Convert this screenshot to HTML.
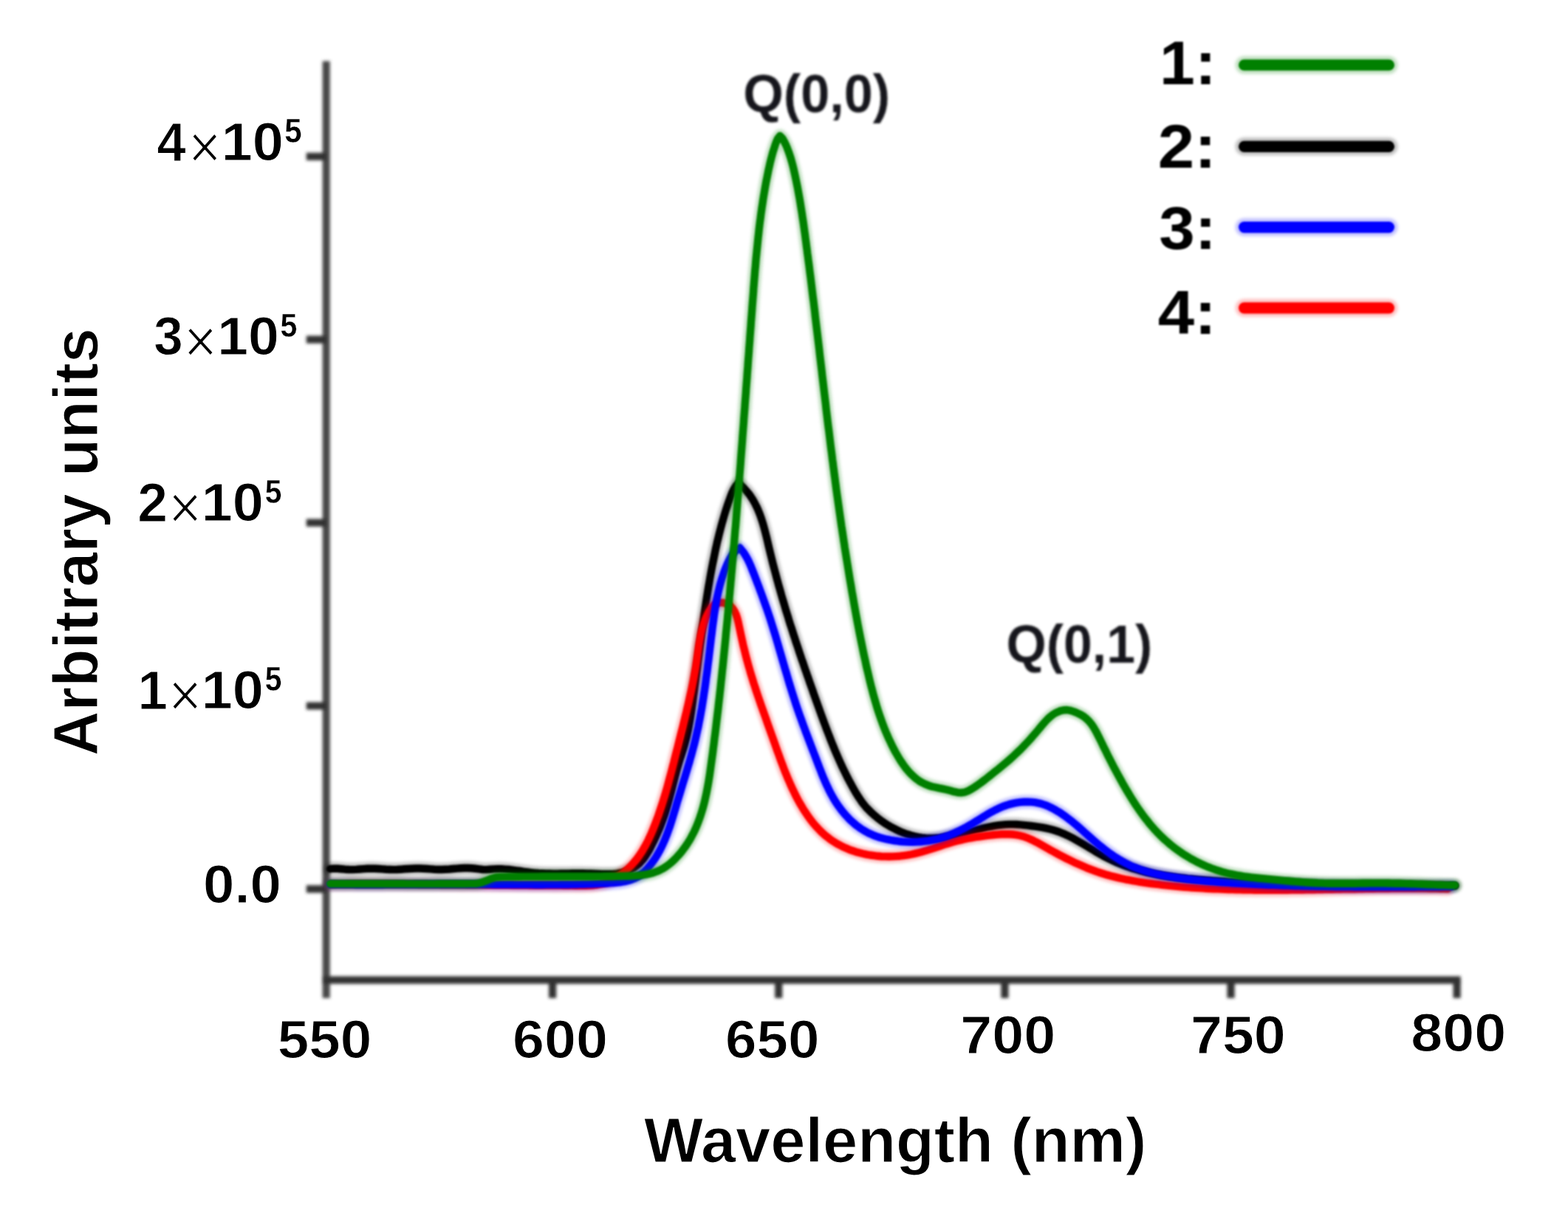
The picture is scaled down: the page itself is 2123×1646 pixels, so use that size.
<!DOCTYPE html>
<html lang="en">
<head>
<meta charset="utf-8">
<title>Emission spectra</title>
<style>
html,body{margin:0;padding:0;background:#fff;}
body{width:2123px;height:1646px;overflow:hidden;font-family:"Liberation Sans", sans-serif;}
svg{display:block;}
text{font-family:"Liberation Sans", sans-serif;}
</style>
</head>
<body>
<svg xmlns="http://www.w3.org/2000/svg" width="2123" height="1646" viewBox="0 0 2123 1646">
<defs>
<filter id="bcv" filterUnits="userSpaceOnUse" x="-3000" y="-3000" width="6000" height="6000"><feGaussianBlur stdDeviation="1.20"/></filter>
<filter id="bhalo" filterUnits="userSpaceOnUse" x="-3000" y="-3000" width="6000" height="6000"><feGaussianBlur stdDeviation="2.00"/></filter>
<filter id="ba" filterUnits="userSpaceOnUse" x="-3000" y="-3000" width="6000" height="6000"><feGaussianBlur stdDeviation="2.00"/></filter>
<filter id="bl" filterUnits="userSpaceOnUse" x="-3000" y="-3000" width="6000" height="6000"><feGaussianBlur stdDeviation="1.30"/></filter>
<filter id="bt" filterUnits="userSpaceOnUse" x="-3000" y="-3000" width="6000" height="6000"><feGaussianBlur stdDeviation="1.50"/></filter>
<filter id="bt2" filterUnits="userSpaceOnUse" x="-3000" y="-3000" width="6000" height="6000"><feGaussianBlur stdDeviation="0.90"/></filter>
</defs>
<rect width="2123" height="1646" fill="#ffffff"/>
<g id="axes" fill="none" stroke="#303030" stroke-width="10.2" filter="url(#ba)">
<path stroke="#474747" d="M441.7 82.8V1351.0"/>
<path d="M436.6 1326.6H1977.7"/>
<path d="M414.8 211.8H441.7M414.8 459.7H441.7M414.8 707.6H441.7M414.8 955.5H441.7M414.8 1203.4H441.7"/>
<path d="M748.1 1326.6V1351.0M1054.2 1326.6V1351.0M1360.4 1326.6V1351.0M1666.5 1326.6V1351.0M1972.6 1326.6V1351.0"/>
</g>
<g id="curves" fill="none" stroke-linejoin="round" stroke-linecap="round">
<defs><path id="c2" d="M447.0 1176.2L452.0 1175.6L457.0 1175.7L462.1 1176.2L467.1 1176.7L472.2 1177.0L477.2 1177.1L482.3 1176.9L487.3 1176.5L492.3 1176.1L497.4 1175.7L502.4 1175.6L507.5 1175.7L512.5 1176.0L517.6 1176.4L522.6 1176.8L527.7 1177.0L532.7 1177.1L537.7 1177.0L542.8 1176.7L547.8 1176.3L552.9 1176.0L557.9 1175.7L563.0 1175.5L568.0 1175.5L573.1 1175.7L578.1 1176.0L583.2 1176.4L588.2 1176.8L593.2 1177.0L598.3 1177.0L603.3 1176.8L608.4 1176.5L613.4 1176.0L618.5 1175.6L623.5 1175.2L628.6 1175.0L633.6 1175.0L638.6 1175.3L643.7 1175.8L648.7 1176.4L653.7 1177.0L658.7 1177.1L663.8 1176.7L668.8 1176.4L673.8 1176.2L678.9 1176.3L683.9 1176.6L689.0 1177.0L694.0 1177.6L699.0 1178.3L704.1 1179.0L709.1 1179.8L714.1 1180.5L719.2 1181.1L724.2 1181.6L729.2 1182.0L734.2 1182.2L739.2 1182.4L744.3 1182.5L749.3 1182.6L754.3 1182.6L759.3 1182.5L764.4 1182.5L769.4 1182.4L774.5 1182.3L779.5 1182.3L784.6 1182.3L789.7 1182.3L794.8 1182.4L799.9 1182.5L805.0 1182.7L810.1 1183.0L815.3 1183.2L820.4 1183.3L825.4 1183.3L830.4 1183.1L835.4 1182.6L840.3 1181.7L845.2 1180.5L849.9 1178.9L854.5 1176.8L858.9 1174.2L862.9 1171.2L866.6 1167.8L870.0 1164.1L873.0 1160.1L875.8 1155.9L878.5 1151.5L880.9 1147.0L883.2 1142.4L885.5 1137.8L887.7 1133.2L889.8 1128.6L891.8 1124.0L893.8 1119.4L895.6 1114.7L897.4 1110.0L899.1 1105.3L900.7 1100.5L902.2 1095.7L903.6 1090.8L905.0 1086.0L906.3 1081.1L907.6 1076.2L908.9 1071.3L910.2 1066.4L911.4 1061.5L912.7 1056.6L913.9 1051.7L915.2 1046.8L916.5 1041.9L917.9 1037.1L919.3 1032.2L920.8 1027.4L922.4 1022.7L923.9 1017.9L925.5 1013.1L926.9 1008.3L928.2 1003.4L929.5 998.6L930.6 993.7L931.7 988.7L932.6 983.8L933.5 978.8L934.4 973.8L935.2 968.8L936.0 963.8L936.7 958.8L937.4 953.8L938.1 948.8L938.7 943.7L939.4 938.7L940.1 933.7L940.7 928.7L941.4 923.6L942.0 918.6L942.7 913.6L943.3 908.6L944.0 903.6L944.6 898.6L945.2 893.6L945.9 888.6L946.5 883.5L947.2 878.5L947.8 873.5L948.5 868.5L949.2 863.5L949.8 858.5L950.5 853.5L951.2 848.5L951.9 843.5L952.6 838.5L953.3 833.5L954.0 828.6L954.7 823.6L955.5 818.6L956.2 813.6L957.0 808.6L957.8 803.6L958.6 798.6L959.4 793.7L960.3 788.7L961.1 783.7L962.0 778.7L962.9 773.8L963.8 768.8L964.8 763.8L965.8 758.9L966.8 753.9L967.8 749.0L968.8 744.0L969.9 739.1L971.0 734.1L972.2 729.2L973.4 724.3L974.6 719.4L975.9 714.5L977.2 709.6L978.6 704.8L980.0 699.9L981.4 695.1L982.9 690.3L984.5 685.5L986.1 680.7L987.8 675.9L989.5 671.2L991.4 666.5L993.6 662.0L996.3 657.8L999.8 654.0L1003.8 657.4L1007.4 661.0L1010.8 664.7L1014.0 668.6L1016.8 672.6L1019.5 676.7L1021.9 681.0L1024.1 685.3L1026.2 689.8L1028.1 694.4L1029.8 699.0L1031.4 703.7L1032.9 708.5L1034.3 713.4L1035.6 718.2L1036.9 723.2L1038.1 728.1L1039.3 733.1L1040.4 738.0L1041.6 743.0L1042.8 747.9L1044.0 752.9L1045.2 757.8L1046.4 762.7L1047.7 767.6L1049.0 772.5L1050.3 777.4L1051.6 782.3L1052.9 787.1L1054.2 792.0L1055.6 796.8L1057.0 801.7L1058.3 806.5L1059.7 811.3L1061.2 816.1L1062.6 820.9L1064.0 825.7L1065.5 830.5L1067.0 835.3L1068.4 840.1L1069.9 844.9L1071.5 849.6L1073.0 854.4L1074.5 859.1L1076.1 863.9L1077.6 868.7L1079.2 873.4L1080.8 878.2L1082.3 882.9L1083.9 887.6L1085.5 892.4L1087.2 897.1L1088.8 901.9L1090.4 906.6L1092.1 911.3L1093.7 916.1L1095.4 920.8L1097.0 925.6L1098.7 930.3L1100.4 935.0L1102.0 939.8L1103.7 944.5L1105.4 949.3L1107.1 954.0L1108.8 958.8L1110.5 963.5L1112.2 968.3L1114.0 973.1L1115.7 977.8L1117.5 982.5L1119.3 987.3L1121.1 992.0L1122.9 996.7L1124.7 1001.4L1126.6 1006.1L1128.5 1010.8L1130.4 1015.5L1132.4 1020.1L1134.4 1024.7L1136.4 1029.3L1138.5 1033.9L1140.6 1038.5L1142.8 1043.0L1145.0 1047.5L1147.2 1052.0L1149.5 1056.4L1151.9 1060.8L1154.3 1065.2L1156.7 1069.5L1159.2 1073.8L1161.8 1078.0L1164.6 1082.1L1167.4 1086.2L1170.4 1090.0L1173.6 1093.8L1177.1 1097.3L1180.6 1100.7L1184.4 1104.1L1188.3 1107.3L1192.4 1110.4L1196.5 1113.3L1200.8 1116.1L1205.3 1118.8L1209.8 1121.2L1214.4 1123.5L1219.1 1125.7L1223.8 1127.6L1228.6 1129.3L1233.5 1130.8L1238.4 1132.1L1243.3 1133.1L1248.3 1133.9L1253.2 1134.5L1258.2 1134.7L1263.1 1134.8L1268.1 1134.5L1273.0 1134.1L1277.9 1133.5L1282.8 1132.7L1287.7 1131.7L1292.6 1130.7L1297.5 1129.5L1302.4 1128.3L1307.2 1127.1L1312.1 1125.8L1317.0 1124.5L1321.9 1123.3L1326.8 1122.1L1331.7 1120.9L1336.6 1119.8L1341.5 1118.8L1346.4 1117.9L1351.4 1117.2L1356.3 1116.6L1361.3 1116.1L1366.3 1115.9L1371.3 1115.9L1376.3 1116.0L1381.3 1116.4L1386.3 1116.9L1391.4 1117.4L1396.4 1118.0L1401.5 1118.6L1406.5 1119.3L1411.5 1120.1L1416.5 1121.1L1421.4 1122.2L1426.2 1123.5L1430.9 1125.0L1435.6 1126.7L1440.2 1128.6L1444.8 1130.7L1449.3 1132.9L1453.8 1135.2L1458.2 1137.7L1462.6 1140.2L1467.0 1142.8L1471.3 1145.4L1475.7 1148.0L1480.1 1150.6L1484.4 1153.2L1488.8 1155.8L1493.2 1158.3L1497.7 1160.6L1502.2 1162.9L1506.7 1165.0L1511.2 1167.1L1515.8 1169.0L1520.4 1170.8L1525.1 1172.5L1529.8 1174.2L1534.5 1175.7L1539.3 1177.1L1544.0 1178.5L1548.8 1179.7L1553.7 1180.9L1558.5 1182.0L1563.4 1183.0L1568.3 1184.0L1573.2 1184.9L1578.2 1185.7L1583.1 1186.5L1588.1 1187.2L1593.1 1187.8L1598.1 1188.5L1603.1 1189.0L1608.1 1189.6L1613.1 1190.0L1618.1 1190.5L1623.2 1190.9L1628.2 1191.3L1633.3 1191.7L1638.3 1192.0L1643.4 1192.4L1648.4 1192.7L1653.5 1193.0L1658.5 1193.3L1663.6 1193.6L1668.6 1193.8L1673.6 1194.1L1678.7 1194.4L1683.7 1194.6L1688.7 1194.9L1693.8 1195.1L1698.8 1195.3L1703.8 1195.6L1708.9 1195.8L1713.9 1196.0L1718.9 1196.2L1723.9 1196.4L1729.0 1196.6L1734.0 1196.7L1739.0 1196.9L1744.0 1197.1L1749.0 1197.2L1754.0 1197.4L1759.1 1197.5L1764.1 1197.7L1769.1 1197.8L1774.1 1197.9L1779.1 1198.0L1784.1 1198.1L1789.1 1198.3L1794.2 1198.4L1799.2 1198.4L1804.2 1198.5L1809.2 1198.6L1814.2 1198.7L1819.2 1198.8L1824.2 1198.8L1829.2 1198.9L1834.2 1198.9L1839.3 1199.0L1844.3 1199.0L1849.3 1199.1L1854.3 1199.1L1859.3 1199.2L1864.3 1199.2L1869.4 1199.2L1874.4 1199.2L1879.4 1199.3L1884.4 1199.3L1889.4 1199.3L1894.5 1199.3L1899.5 1199.3L1904.5 1199.3L1909.5 1199.3L1914.6 1199.3L1919.6 1199.3L1924.6 1199.2L1929.7 1199.2L1934.7 1199.2L1939.7 1199.2L1944.8 1199.2L1949.8 1199.1L1954.9 1199.1L1959.9 1199.1L1964.9 1199.0L1970.0 1199.0"/></defs>
<use href="#c2" stroke="#000000" stroke-width="18.0" stroke-opacity="0.25" filter="url(#bhalo)"/>
<use href="#c2" stroke="#000000" stroke-width="10.4" filter="url(#bcv)"/>
<defs><path id="c4" d="M447.0 1197.0L452.0 1197.0L457.0 1196.9L462.1 1196.9L467.1 1196.9L472.1 1196.8L477.1 1196.8L482.2 1196.8L487.2 1196.8L492.2 1196.8L497.2 1196.8L502.3 1196.8L507.3 1196.8L512.3 1196.8L517.3 1196.8L522.4 1196.8L527.4 1196.8L532.4 1196.8L537.4 1196.8L542.5 1196.9L547.5 1196.9L552.5 1196.9L557.5 1196.9L562.6 1196.9L567.6 1197.0L572.6 1197.0L577.6 1197.0L582.7 1197.1L587.7 1197.1L592.7 1197.1L597.7 1197.2L602.8 1197.2L607.8 1197.3L612.8 1197.3L617.9 1197.3L622.9 1197.4L627.9 1197.4L632.9 1197.5L638.0 1197.5L643.0 1197.6L648.0 1197.6L653.0 1197.6L658.0 1197.7L663.1 1197.7L668.1 1197.8L673.1 1197.8L678.1 1197.9L683.2 1197.9L688.2 1197.9L693.2 1198.0L698.2 1198.0L703.2 1198.1L708.3 1198.1L713.3 1198.1L718.3 1198.2L723.3 1198.2L728.3 1198.2L733.3 1198.3L738.4 1198.3L743.4 1198.3L748.4 1198.4L753.4 1198.4L758.5 1198.4L763.5 1198.5L768.5 1198.5L773.6 1198.6L778.6 1198.7L783.7 1198.8L788.8 1198.8L793.8 1198.7L798.8 1198.6L803.8 1198.2L808.8 1197.5L813.7 1196.5L818.5 1195.2L823.3 1193.5L827.9 1191.4L832.4 1189.1L836.8 1186.4L841.0 1183.6L845.0 1180.5L848.9 1177.2L852.5 1173.8L855.9 1170.2L859.2 1166.4L862.3 1162.6L865.2 1158.6L868.0 1154.4L870.6 1150.2L873.1 1145.9L875.5 1141.5L877.8 1137.0L879.9 1132.4L882.0 1127.8L883.9 1123.2L885.8 1118.5L887.7 1113.8L889.4 1109.0L891.2 1104.3L892.8 1099.5L894.4 1094.8L896.0 1090.0L897.5 1085.2L899.0 1080.4L900.5 1075.6L901.9 1070.7L903.3 1065.9L904.6 1061.1L905.9 1056.2L907.2 1051.4L908.5 1046.5L909.8 1041.7L911.0 1036.8L912.3 1032.0L913.5 1027.1L914.7 1022.2L915.9 1017.4L917.2 1012.5L918.4 1007.7L919.6 1002.8L920.8 997.9L922.0 993.1L923.3 988.2L924.5 983.4L925.7 978.5L926.9 973.7L928.1 968.8L929.3 964.0L930.4 959.1L931.6 954.2L932.7 949.3L933.8 944.4L934.9 939.5L936.0 934.6L937.0 929.7L938.0 924.8L939.0 919.8L939.9 914.9L940.8 909.9L941.7 904.9L942.5 899.9L943.3 894.9L944.0 889.8L944.7 884.8L945.4 879.7L946.1 874.7L946.9 869.6L947.8 864.6L948.7 859.7L949.8 854.7L951.1 849.9L952.5 845.1L954.2 840.4L956.0 835.7L958.2 831.2L960.6 826.8L963.4 822.6L966.7 819.1L970.5 816.6L975.0 815.6L979.8 816.0L984.6 817.6L988.7 820.2L992.0 823.6L994.6 827.6L996.7 832.2L998.3 837.1L999.6 842.2L1000.7 847.5L1001.8 852.7L1002.9 857.9L1004.0 862.9L1005.1 867.9L1006.2 872.9L1007.4 877.8L1008.6 882.6L1009.8 887.4L1011.0 892.1L1012.3 896.9L1013.6 901.6L1015.0 906.4L1016.3 911.1L1017.8 915.9L1019.2 920.6L1020.7 925.4L1022.3 930.1L1023.8 934.9L1025.4 939.7L1027.0 944.4L1028.7 949.2L1030.3 954.0L1032.0 958.8L1033.7 963.6L1035.4 968.3L1037.1 973.1L1038.8 977.9L1040.5 982.7L1042.2 987.4L1043.9 992.2L1045.6 996.9L1047.3 1001.7L1049.0 1006.4L1050.6 1011.1L1052.3 1015.9L1054.0 1020.6L1055.7 1025.3L1057.4 1030.0L1059.2 1034.7L1060.9 1039.3L1062.7 1044.0L1064.6 1048.6L1066.5 1053.2L1068.5 1057.8L1070.5 1062.4L1072.6 1067.0L1074.8 1071.6L1077.0 1076.1L1079.3 1080.6L1081.7 1085.1L1084.3 1089.5L1086.9 1093.9L1089.6 1098.2L1092.4 1102.4L1095.3 1106.6L1098.3 1110.6L1101.4 1114.6L1104.7 1118.4L1108.1 1122.0L1111.6 1125.6L1115.2 1129.0L1119.0 1132.2L1122.9 1135.2L1126.9 1138.1L1131.1 1140.7L1135.4 1143.2L1139.8 1145.5L1144.3 1147.6L1148.9 1149.6L1153.6 1151.3L1158.4 1152.9L1163.3 1154.3L1168.2 1155.5L1173.2 1156.6L1178.2 1157.5L1183.2 1158.2L1188.3 1158.8L1193.4 1159.2L1198.5 1159.4L1203.6 1159.5L1208.7 1159.4L1213.8 1159.1L1218.9 1158.7L1223.9 1158.1L1228.9 1157.4L1233.9 1156.5L1238.8 1155.4L1243.6 1154.2L1248.4 1152.9L1253.2 1151.6L1257.9 1150.1L1262.7 1148.6L1267.4 1147.0L1272.1 1145.5L1276.8 1143.9L1281.5 1142.4L1286.3 1141.0L1291.1 1139.6L1295.9 1138.3L1300.8 1137.1L1305.7 1136.0L1310.6 1135.0L1315.6 1134.1L1320.6 1133.2L1325.6 1132.5L1330.6 1131.8L1335.7 1131.1L1340.8 1130.6L1345.8 1130.0L1350.9 1129.6L1356.0 1129.3L1361.0 1129.2L1366.0 1129.2L1371.0 1129.5L1375.9 1130.1L1380.7 1131.0L1385.4 1132.2L1390.1 1133.8L1394.6 1135.7L1399.1 1137.8L1403.6 1140.1L1408.0 1142.6L1412.4 1145.1L1416.8 1147.6L1421.2 1150.1L1425.7 1152.5L1430.1 1154.9L1434.6 1157.3L1439.1 1159.7L1443.6 1162.0L1448.1 1164.2L1452.6 1166.4L1457.2 1168.6L1461.8 1170.6L1466.4 1172.6L1471.0 1174.6L1475.6 1176.4L1480.3 1178.2L1485.0 1179.9L1489.8 1181.5L1494.6 1183.0L1499.3 1184.4L1504.2 1185.7L1509.0 1186.9L1513.9 1188.1L1518.8 1189.2L1523.7 1190.3L1528.6 1191.2L1533.5 1192.1L1538.5 1193.0L1543.4 1193.8L1548.4 1194.6L1553.4 1195.3L1558.4 1196.0L1563.4 1196.6L1568.4 1197.2L1573.4 1197.8L1578.4 1198.3L1583.4 1198.9L1588.4 1199.4L1593.4 1199.8L1598.4 1200.3L1603.4 1200.7L1608.4 1201.1L1613.4 1201.5L1618.4 1201.8L1623.4 1202.1L1628.4 1202.4L1633.4 1202.7L1638.4 1203.0L1643.5 1203.2L1648.5 1203.4L1653.5 1203.6L1658.5 1203.8L1663.5 1204.0L1668.5 1204.1L1673.6 1204.3L1678.6 1204.4L1683.6 1204.5L1688.6 1204.6L1693.6 1204.6L1698.7 1204.7L1703.7 1204.7L1708.7 1204.8L1713.7 1204.8L1718.8 1204.8L1723.8 1204.8L1728.8 1204.8L1733.8 1204.8L1738.9 1204.7L1743.9 1204.7L1748.9 1204.6L1753.9 1204.6L1759.0 1204.5L1764.0 1204.5L1769.0 1204.4L1774.1 1204.3L1779.1 1204.2L1784.1 1204.1L1789.1 1204.0L1794.2 1203.9L1799.2 1203.8L1804.2 1203.7L1809.3 1203.6L1814.3 1203.5L1819.3 1203.4L1824.3 1203.3L1829.4 1203.3L1834.4 1203.2L1839.4 1203.1L1844.5 1203.0L1849.5 1202.9L1854.5 1202.8L1859.5 1202.7L1864.6 1202.6L1869.6 1202.6L1874.6 1202.5L1879.6 1202.5L1884.7 1202.4L1889.7 1202.4L1894.7 1202.3L1899.8 1202.3L1904.8 1202.3L1909.8 1202.3L1914.8 1202.3L1919.8 1202.3L1924.9 1202.4L1929.9 1202.4L1934.9 1202.5L1939.9 1202.6L1944.9 1202.6L1950.0 1202.7L1955.0 1202.9L1960.0 1203.0"/></defs>
<use href="#c4" stroke="#ff0000" stroke-width="18.0" stroke-opacity="0.25" filter="url(#bhalo)"/>
<use href="#c4" stroke="#ff0000" stroke-width="10.4" filter="url(#bcv)"/>
<defs><path id="c3" d="M447.0 1197.0L452.0 1197.0L457.1 1197.1L462.1 1197.1L467.1 1197.1L472.2 1197.1L477.2 1197.1L482.3 1197.2L487.3 1197.2L492.3 1197.2L497.4 1197.2L502.4 1197.2L507.5 1197.2L512.5 1197.2L517.6 1197.2L522.7 1197.1L527.7 1197.1L532.8 1197.1L537.8 1197.1L542.9 1197.1L547.9 1197.1L553.0 1197.1L558.1 1197.1L563.1 1197.0L568.2 1197.0L573.2 1197.0L578.3 1197.0L583.3 1197.0L588.4 1197.0L593.5 1197.0L598.5 1197.0L603.6 1197.0L608.6 1197.0L613.7 1197.0L618.7 1197.0L623.8 1197.0L628.8 1197.0L633.9 1197.0L638.9 1197.0L643.9 1197.0L649.0 1197.0L654.0 1197.1L659.1 1197.1L664.1 1197.1L669.1 1197.2L674.2 1197.2L679.2 1197.2L684.2 1197.3L689.2 1197.3L694.3 1197.3L699.3 1197.4L704.3 1197.4L709.4 1197.4L714.4 1197.4L719.4 1197.4L724.5 1197.5L729.5 1197.5L734.5 1197.5L739.6 1197.4L744.6 1197.4L749.7 1197.4L754.7 1197.4L759.8 1197.3L764.8 1197.2L769.9 1197.2L775.0 1197.1L780.1 1197.0L785.1 1196.9L790.2 1196.8L795.3 1196.6L800.4 1196.5L805.5 1196.3L810.6 1196.1L815.7 1195.9L820.9 1195.7L826.0 1195.4L831.1 1195.1L836.2 1194.6L841.2 1194.0L846.1 1193.1L850.8 1192.0L855.4 1190.5L859.9 1188.6L864.2 1186.3L868.2 1183.6L872.0 1180.4L875.6 1176.8L878.9 1173.0L882.1 1168.9L885.1 1164.8L887.9 1160.6L890.5 1156.3L892.9 1151.9L895.3 1147.4L897.4 1142.8L899.5 1138.2L901.4 1133.5L903.3 1128.8L905.0 1124.1L906.7 1119.3L908.3 1114.4L909.8 1109.6L911.3 1104.7L912.8 1099.8L914.3 1094.9L915.7 1090.0L917.1 1085.1L918.6 1080.2L920.1 1075.4L921.6 1070.5L923.0 1065.7L924.5 1060.8L926.0 1056.0L927.5 1051.2L929.0 1046.3L930.4 1041.5L931.8 1036.7L933.3 1031.9L934.6 1027.0L936.0 1022.2L937.3 1017.4L938.6 1012.5L939.9 1007.7L941.1 1002.8L942.2 998.0L943.3 993.1L944.4 988.2L945.5 983.3L946.4 978.4L947.4 973.4L948.3 968.5L949.2 963.5L950.1 958.6L950.9 953.6L951.7 948.7L952.5 943.7L953.2 938.7L954.0 933.7L954.7 928.7L955.4 923.7L956.0 918.7L956.7 913.7L957.4 908.7L958.0 903.6L958.6 898.6L959.3 893.6L959.9 888.5L960.5 883.5L961.1 878.4L961.7 873.4L962.3 868.3L962.9 863.3L963.6 858.2L964.2 853.2L964.8 848.1L965.5 843.0L966.2 838.0L966.9 832.9L967.6 827.9L968.4 822.9L969.2 817.9L970.1 812.9L971.1 807.9L972.2 803.0L973.3 798.1L974.5 793.2L975.8 788.4L977.2 783.6L978.8 778.8L980.4 774.1L982.2 769.5L984.1 764.9L986.2 760.3L988.5 755.9L991.0 751.7L994.0 747.9L997.5 744.4L1001.5 741.5L1004.8 745.3L1007.7 749.2L1010.3 753.4L1012.7 757.8L1014.8 762.3L1016.8 766.9L1018.6 771.5L1020.5 776.2L1022.3 780.9L1024.1 785.6L1025.9 790.3L1027.7 795.0L1029.4 799.7L1031.2 804.5L1032.9 809.2L1034.6 813.9L1036.3 818.7L1038.0 823.4L1039.6 828.2L1041.2 832.9L1042.8 837.7L1044.3 842.5L1045.8 847.3L1047.3 852.1L1048.8 856.9L1050.3 861.8L1051.7 866.6L1053.1 871.4L1054.5 876.2L1055.9 881.1L1057.3 885.9L1058.7 890.7L1060.1 895.6L1061.5 900.4L1062.9 905.3L1064.4 910.1L1065.8 914.9L1067.2 919.7L1068.6 924.6L1070.1 929.4L1071.6 934.2L1073.1 939.0L1074.6 943.8L1076.2 948.6L1077.7 953.3L1079.3 958.1L1081.0 962.9L1082.6 967.6L1084.3 972.3L1086.0 977.1L1087.7 981.8L1089.5 986.5L1091.2 991.2L1093.0 995.9L1094.8 1000.7L1096.6 1005.4L1098.4 1010.1L1100.2 1014.8L1102.0 1019.5L1103.8 1024.2L1105.6 1028.9L1107.4 1033.6L1109.2 1038.4L1111.1 1043.1L1112.9 1047.8L1114.8 1052.5L1116.8 1057.1L1118.8 1061.7L1121.0 1066.3L1123.2 1070.9L1125.5 1075.3L1128.0 1079.8L1130.6 1084.1L1133.4 1088.4L1136.3 1092.5L1139.3 1096.6L1142.5 1100.5L1145.8 1104.3L1149.2 1107.9L1152.8 1111.4L1156.6 1114.7L1160.4 1117.9L1164.4 1120.8L1168.6 1123.5L1172.9 1126.0L1177.3 1128.3L1181.9 1130.3L1186.6 1132.1L1191.4 1133.7L1196.3 1135.0L1201.3 1136.2L1206.3 1137.2L1211.3 1138.0L1216.4 1138.7L1221.5 1139.2L1226.6 1139.5L1231.7 1139.7L1236.8 1139.7L1241.8 1139.6L1246.9 1139.2L1251.9 1138.7L1256.9 1138.1L1261.9 1137.2L1266.8 1136.2L1271.7 1135.0L1276.5 1133.6L1281.2 1132.0L1285.9 1130.3L1290.5 1128.4L1295.1 1126.3L1299.6 1124.2L1304.1 1121.9L1308.5 1119.5L1312.8 1117.0L1317.2 1114.4L1321.5 1111.8L1325.8 1109.2L1330.0 1106.5L1334.3 1103.9L1338.6 1101.3L1343.0 1098.8L1347.4 1096.5L1351.9 1094.3L1356.6 1092.2L1361.3 1090.5L1366.2 1088.9L1371.2 1087.6L1376.2 1086.6L1381.2 1085.9L1386.3 1085.5L1391.3 1085.4L1396.3 1085.6L1401.3 1086.2L1406.1 1087.1L1410.9 1088.3L1415.6 1089.9L1420.2 1091.8L1424.7 1094.0L1429.1 1096.4L1433.4 1098.9L1437.6 1101.7L1441.7 1104.6L1445.8 1107.6L1449.7 1110.6L1453.6 1113.8L1457.5 1117.0L1461.3 1120.3L1465.1 1123.6L1468.8 1127.0L1472.6 1130.4L1476.4 1133.7L1480.2 1137.1L1484.0 1140.4L1487.9 1143.7L1491.9 1146.9L1495.9 1150.0L1499.9 1153.1L1504.0 1156.1L1508.2 1159.0L1512.4 1161.7L1516.7 1164.4L1521.1 1166.8L1525.5 1169.2L1530.0 1171.4L1534.5 1173.4L1539.1 1175.2L1543.8 1176.9L1548.6 1178.5L1553.3 1180.0L1558.2 1181.3L1563.0 1182.5L1567.9 1183.6L1572.8 1184.6L1577.8 1185.6L1582.8 1186.4L1587.7 1187.2L1592.7 1188.0L1597.7 1188.7L1602.8 1189.3L1607.8 1190.0L1612.8 1190.5L1617.8 1191.1L1622.8 1191.6L1627.8 1192.1L1632.8 1192.6L1637.9 1193.0L1642.9 1193.4L1647.9 1193.8L1652.9 1194.2L1658.0 1194.5L1663.0 1194.9L1668.0 1195.2L1673.0 1195.5L1678.1 1195.8L1683.1 1196.0L1688.1 1196.3L1693.2 1196.6L1698.2 1196.8L1703.2 1197.1L1708.2 1197.3L1713.3 1197.5L1718.3 1197.7L1723.3 1197.9L1728.4 1198.1L1733.4 1198.3L1738.4 1198.5L1743.5 1198.6L1748.5 1198.8L1753.5 1199.0L1758.5 1199.1L1763.6 1199.2L1768.6 1199.4L1773.6 1199.5L1778.7 1199.6L1783.7 1199.7L1788.7 1199.8L1793.8 1199.9L1798.8 1200.0L1803.8 1200.1L1808.9 1200.2L1813.9 1200.2L1819.0 1200.3L1824.0 1200.4L1829.0 1200.4L1834.1 1200.5L1839.1 1200.5L1844.1 1200.5L1849.2 1200.6L1854.2 1200.6L1859.2 1200.6L1864.3 1200.6L1869.3 1200.6L1874.3 1200.6L1879.4 1200.6L1884.4 1200.6L1889.5 1200.6L1894.5 1200.6L1899.5 1200.6L1904.6 1200.5L1909.6 1200.5L1914.6 1200.5L1919.7 1200.4L1924.7 1200.4L1929.7 1200.4L1934.8 1200.3L1939.8 1200.3L1944.9 1200.2L1949.9 1200.2L1954.9 1200.1L1960.0 1200.1L1965.0 1200.0"/></defs>
<use href="#c3" stroke="#0000ff" stroke-width="18.0" stroke-opacity="0.25" filter="url(#bhalo)"/>
<use href="#c3" stroke="#0000ff" stroke-width="10.4" filter="url(#bcv)"/>
<defs><path id="c1" d="M447.0 1196.3L452.2 1196.3L457.4 1196.3L462.6 1196.3L467.8 1196.3L473.1 1196.2L478.3 1196.2L483.5 1196.2L488.7 1196.3L493.9 1196.3L499.1 1196.3L504.3 1196.3L509.5 1196.3L514.7 1196.3L519.9 1196.3L525.2 1196.3L530.4 1196.3L535.6 1196.3L540.8 1196.3L546.0 1196.3L551.2 1196.4L556.4 1196.4L561.6 1196.4L566.8 1196.4L572.1 1196.4L577.3 1196.4L582.5 1196.4L587.7 1196.4L592.9 1196.3L598.1 1196.3L603.3 1196.3L608.5 1196.3L613.7 1196.3L618.9 1196.2L624.2 1196.2L629.4 1196.2L634.6 1196.1L639.8 1196.1L645.0 1196.0L651.7 1194.6L658.2 1192.2L664.5 1189.5L671.1 1187.5L678.0 1187.0L683.1 1186.9L688.2 1186.8L693.3 1186.8L698.4 1186.7L703.4 1186.7L708.5 1186.6L713.5 1186.6L718.5 1186.6L723.6 1186.6L728.6 1186.6L733.6 1186.5L738.6 1186.5L743.6 1186.5L748.6 1186.5L753.6 1186.5L758.6 1186.5L763.6 1186.5L768.6 1186.5L773.6 1186.5L778.6 1186.5L783.6 1186.5L788.6 1186.5L793.6 1186.5L798.7 1186.5L803.7 1186.5L808.7 1186.4L813.8 1186.4L818.8 1186.3L823.9 1186.3L829.0 1186.2L834.1 1186.1L839.2 1186.0L844.3 1185.9L849.5 1185.8L854.6 1185.6L859.7 1185.4L864.8 1185.0L869.8 1184.4L874.8 1183.7L879.7 1182.6L884.5 1181.4L889.2 1179.7L893.7 1177.7L898.1 1175.4L902.3 1172.6L906.4 1169.6L910.3 1166.3L914.0 1162.7L917.5 1159.0L920.9 1155.2L924.1 1151.2L927.1 1147.2L930.0 1143.0L932.7 1138.8L935.2 1134.6L937.5 1130.2L939.8 1125.8L941.9 1121.3L943.8 1116.7L945.6 1112.1L947.3 1107.5L948.9 1102.8L950.4 1098.0L951.8 1093.2L953.1 1088.4L954.3 1083.5L955.4 1078.6L956.5 1073.6L957.5 1068.6L958.4 1063.6L959.3 1058.6L960.1 1053.6L960.9 1048.6L961.6 1043.5L962.3 1038.4L963.0 1033.4L963.7 1028.3L964.4 1023.3L965.1 1018.2L965.7 1013.2L966.4 1008.1L967.0 1003.1L967.6 998.0L968.3 993.0L968.9 988.0L969.5 983.0L970.1 977.9L970.7 972.9L971.3 967.9L971.9 962.9L972.5 957.9L973.0 952.9L973.6 947.9L974.2 942.9L974.7 937.9L975.3 932.9L975.8 927.9L976.3 922.9L976.9 917.9L977.4 912.9L977.9 907.9L978.5 902.9L979.0 897.9L979.5 892.9L980.0 887.9L980.5 882.9L981.0 877.9L981.5 872.9L982.0 867.9L982.5 862.9L982.9 857.9L983.4 852.9L983.9 847.9L984.4 842.9L984.9 837.9L985.3 832.9L985.8 827.9L986.3 822.9L986.7 817.9L987.2 812.9L987.6 807.9L988.1 802.9L988.5 797.9L989.0 792.9L989.4 787.9L989.9 782.9L990.3 777.8L990.8 772.8L991.2 767.8L991.6 762.8L992.1 757.8L992.5 752.8L992.9 747.7L993.3 742.7L993.8 737.7L994.2 732.7L994.6 727.7L995.0 722.6L995.4 717.6L995.9 712.6L996.3 707.6L996.7 702.5L997.1 697.5L997.5 692.5L997.9 687.5L998.3 682.4L998.7 677.4L999.1 672.4L999.5 667.3L999.9 662.3L1000.3 657.3L1000.7 652.3L1001.1 647.2L1001.5 642.2L1001.9 637.2L1002.3 632.1L1002.7 627.1L1003.0 622.1L1003.4 617.0L1003.8 612.0L1004.2 607.0L1004.6 601.9L1005.0 596.9L1005.3 591.9L1005.7 586.8L1006.1 581.8L1006.5 576.8L1006.9 571.7L1007.2 566.7L1007.6 561.7L1008.0 556.7L1008.4 551.6L1008.7 546.6L1009.1 541.6L1009.5 536.5L1009.9 531.5L1010.2 526.5L1010.6 521.4L1011.0 516.4L1011.4 511.4L1011.7 506.3L1012.1 501.3L1012.5 496.3L1012.8 491.3L1013.2 486.2L1013.6 481.2L1014.0 476.2L1014.3 471.1L1014.7 466.1L1015.1 461.1L1015.4 456.1L1015.8 451.0L1016.2 446.0L1016.6 441.0L1016.9 436.0L1017.3 431.0L1017.7 425.9L1018.1 420.9L1018.4 415.9L1018.8 410.9L1019.2 405.9L1019.6 400.8L1020.0 395.8L1020.3 390.8L1020.7 385.8L1021.1 380.8L1021.5 375.8L1021.9 370.7L1022.3 365.7L1022.8 360.7L1023.2 355.7L1023.6 350.7L1024.1 345.7L1024.6 340.7L1025.1 335.7L1025.6 330.7L1026.1 325.7L1026.6 320.7L1027.2 315.7L1027.7 310.7L1028.3 305.7L1028.9 300.7L1029.6 295.7L1030.2 290.7L1030.9 285.7L1031.6 280.7L1032.4 275.7L1033.1 270.7L1033.9 265.7L1034.8 260.7L1035.6 255.7L1036.5 250.7L1037.4 245.7L1038.4 240.7L1039.4 235.7L1040.4 230.7L1041.5 225.8L1042.6 220.8L1043.8 215.9L1045.1 211.0L1046.4 206.2L1047.9 201.5L1049.4 196.8L1051.1 192.1L1053.0 187.7L1056.0 184.0L1059.4 187.4L1061.8 191.6L1064.0 196.1L1065.9 200.6L1067.7 205.3L1069.3 210.0L1070.8 214.7L1072.2 219.6L1073.5 224.5L1074.7 229.4L1075.8 234.3L1076.9 239.3L1077.9 244.2L1078.9 249.1L1079.9 254.1L1080.8 259.0L1081.7 264.0L1082.6 268.9L1083.4 273.9L1084.2 278.9L1085.0 283.8L1085.8 288.8L1086.5 293.7L1087.3 298.7L1088.0 303.6L1088.7 308.6L1089.4 313.6L1090.1 318.5L1090.7 323.5L1091.4 328.5L1092.0 333.4L1092.7 338.4L1093.3 343.4L1094.0 348.3L1094.6 353.3L1095.3 358.3L1095.9 363.2L1096.5 368.2L1097.2 373.2L1097.8 378.2L1098.4 383.1L1099.0 388.1L1099.6 393.1L1100.2 398.1L1100.8 403.1L1101.5 408.0L1102.1 413.0L1102.7 418.0L1103.3 423.0L1103.8 428.0L1104.4 433.0L1105.0 437.9L1105.6 442.9L1106.2 447.9L1106.8 452.9L1107.4 457.9L1108.0 462.9L1108.6 467.9L1109.2 472.8L1109.7 477.8L1110.3 482.8L1110.9 487.8L1111.5 492.8L1112.1 497.8L1112.7 502.8L1113.2 507.7L1113.8 512.7L1114.4 517.7L1115.0 522.7L1115.6 527.7L1116.2 532.7L1116.8 537.7L1117.4 542.7L1118.0 547.6L1118.5 552.6L1119.1 557.6L1119.7 562.6L1120.3 567.6L1120.9 572.6L1121.5 577.5L1122.2 582.5L1122.8 587.5L1123.4 592.5L1124.0 597.5L1124.6 602.5L1125.2 607.4L1125.9 612.4L1126.5 617.4L1127.1 622.4L1127.8 627.3L1128.4 632.3L1129.1 637.3L1129.7 642.3L1130.4 647.2L1131.0 652.2L1131.7 657.2L1132.3 662.1L1133.0 667.1L1133.7 672.1L1134.4 677.0L1135.1 682.0L1135.8 687.0L1136.5 691.9L1137.2 696.9L1137.9 701.8L1138.6 706.8L1139.3 711.8L1140.1 716.7L1140.8 721.7L1141.6 726.6L1142.3 731.6L1143.1 736.5L1143.8 741.5L1144.6 746.4L1145.4 751.4L1146.2 756.3L1147.0 761.3L1147.8 766.2L1148.6 771.2L1149.4 776.1L1150.2 781.1L1151.0 786.0L1151.9 791.0L1152.7 795.9L1153.5 800.9L1154.4 805.8L1155.3 810.8L1156.1 815.7L1157.0 820.7L1157.9 825.6L1158.8 830.6L1159.7 835.5L1160.6 840.5L1161.5 845.4L1162.5 850.4L1163.4 855.3L1164.4 860.3L1165.4 865.2L1166.4 870.1L1167.4 875.1L1168.4 880.0L1169.4 884.9L1170.5 889.8L1171.6 894.7L1172.6 899.6L1173.7 904.5L1174.9 909.4L1176.0 914.2L1177.1 919.1L1178.3 923.9L1179.5 928.8L1180.8 933.6L1182.0 938.4L1183.3 943.2L1184.7 948.0L1186.1 952.8L1187.5 957.6L1189.0 962.3L1190.6 967.1L1192.2 971.8L1193.9 976.5L1195.6 981.2L1197.4 985.8L1199.3 990.5L1201.3 995.1L1203.3 999.8L1205.5 1004.3L1207.7 1008.9L1210.0 1013.5L1212.4 1018.0L1215.0 1022.5L1217.6 1027.0L1220.4 1031.3L1223.3 1035.5L1226.3 1039.6L1229.5 1043.5L1232.9 1047.2L1236.4 1050.6L1240.1 1053.8L1244.0 1056.7L1248.1 1059.2L1252.5 1061.4L1257.0 1063.2L1261.8 1064.7L1266.7 1065.8L1271.7 1066.9L1276.8 1067.9L1281.9 1069.0L1286.9 1070.3L1291.7 1071.7L1296.6 1072.7L1301.3 1073.0L1306.0 1072.3L1310.7 1070.6L1315.3 1068.2L1319.7 1065.4L1323.9 1062.5L1328.1 1059.5L1332.1 1056.5L1336.0 1053.5L1339.9 1050.4L1343.8 1047.3L1347.7 1044.1L1351.7 1041.0L1355.6 1037.8L1359.5 1034.6L1363.4 1031.3L1367.2 1028.0L1370.9 1024.7L1374.5 1021.3L1378.1 1017.9L1381.7 1014.4L1385.2 1010.9L1388.6 1007.3L1392.0 1003.7L1395.4 1000.0L1398.7 996.2L1402.0 992.4L1405.3 988.5L1408.5 984.6L1411.8 980.7L1415.2 976.8L1418.6 973.2L1422.3 969.8L1426.2 966.9L1430.4 964.4L1435.0 962.4L1439.9 961.2L1444.8 961.0L1449.6 961.9L1454.2 963.4L1458.9 965.3L1463.4 967.5L1467.5 970.0L1471.3 973.1L1474.7 976.5L1477.8 980.3L1480.6 984.4L1483.2 988.8L1485.6 993.3L1487.9 997.9L1490.2 1002.5L1492.4 1007.1L1494.6 1011.7L1496.9 1016.2L1499.1 1020.7L1501.3 1025.2L1503.6 1029.6L1505.9 1034.1L1508.1 1038.5L1510.5 1042.8L1512.8 1047.2L1515.2 1051.6L1517.6 1055.9L1520.0 1060.3L1522.5 1064.6L1525.0 1069.0L1527.6 1073.3L1530.2 1077.6L1532.9 1081.9L1535.6 1086.2L1538.3 1090.4L1541.2 1094.6L1544.1 1098.7L1547.0 1102.8L1550.1 1106.9L1553.2 1110.8L1556.3 1114.8L1559.6 1118.6L1562.9 1122.4L1566.3 1126.1L1569.8 1129.7L1573.4 1133.2L1577.0 1136.6L1580.8 1139.9L1584.6 1143.2L1588.5 1146.3L1592.5 1149.3L1596.6 1152.3L1600.7 1155.1L1604.9 1157.8L1609.2 1160.4L1613.5 1162.9L1617.9 1165.3L1622.3 1167.6L1626.9 1169.7L1631.4 1171.8L1636.0 1173.7L1640.7 1175.5L1645.4 1177.2L1650.2 1178.7L1655.0 1180.2L1659.8 1181.5L1664.7 1182.7L1669.6 1183.7L1674.5 1184.7L1679.4 1185.5L1684.4 1186.3L1689.4 1187.0L1694.4 1187.6L1699.4 1188.2L1704.5 1188.7L1709.5 1189.2L1714.5 1189.7L1719.5 1190.2L1724.5 1190.7L1729.5 1191.2L1734.5 1191.6L1739.5 1192.1L1744.5 1192.5L1749.5 1193.0L1754.5 1193.4L1759.4 1193.8L1764.4 1194.1L1769.4 1194.5L1774.4 1194.8L1779.4 1195.0L1784.4 1195.3L1789.4 1195.4L1794.4 1195.6L1799.4 1195.7L1804.4 1195.8L1809.4 1195.8L1814.4 1195.8L1819.4 1195.8L1824.5 1195.8L1829.5 1195.7L1834.5 1195.7L1839.6 1195.6L1844.6 1195.5L1849.6 1195.5L1854.7 1195.4L1859.7 1195.4L1864.7 1195.4L1869.8 1195.4L1874.8 1195.4L1879.8 1195.5L1884.8 1195.6L1889.8 1195.7L1894.8 1195.8L1899.8 1195.9L1904.8 1196.1L1909.8 1196.3L1914.9 1196.4L1919.9 1196.6L1924.9 1196.8L1929.9 1197.0L1934.9 1197.2L1939.9 1197.4L1944.9 1197.6L1949.9 1197.8L1954.9 1197.9L1959.9 1198.1L1965.0 1198.2L1970.0 1198.3"/></defs>
<use href="#c1" stroke="#008000" stroke-width="18.0" stroke-opacity="0.25" filter="url(#bhalo)"/>
<use href="#c1" stroke="#008000" stroke-width="10.4" filter="url(#bcv)"/>
</g>
<g id="legend" fill="none" stroke-linecap="round">
<path stroke="#008000" stroke-width="24.0" stroke-opacity="0.25" filter="url(#bhalo)" d="M1684.6 88.0H1880.4"/>
<path stroke="#008000" stroke-width="15.2" filter="url(#bl)" d="M1684.6 88.0H1880.4"/>
<path stroke="#000000" stroke-width="24.0" stroke-opacity="0.25" filter="url(#bhalo)" d="M1684.6 198.3H1880.4"/>
<path stroke="#000000" stroke-width="15.2" filter="url(#bl)" d="M1684.6 198.3H1880.4"/>
<path stroke="#0000ff" stroke-width="24.0" stroke-opacity="0.25" filter="url(#bhalo)" d="M1684.6 307.6H1880.4"/>
<path stroke="#0000ff" stroke-width="15.2" filter="url(#bl)" d="M1684.6 307.6H1880.4"/>
<path stroke="#ff0000" stroke-width="24.0" stroke-opacity="0.25" filter="url(#bhalo)" d="M1684.6 416.8H1880.4"/>
<path stroke="#ff0000" stroke-width="15.2" filter="url(#bl)" d="M1684.6 416.8H1880.4"/>
</g>
<g id="labels" fill="#000000" font-family="'Liberation Sans', sans-serif" font-weight="bold">
<text id="xl550" transform="translate(375.81 1431.78) scale(1.0694 1)" font-size="71.51" stroke="#ffffff" stroke-width="1.00" stroke-linejoin="round">550</text>
<text id="xl600" transform="translate(694.09 1431.78) scale(1.0798 1)" font-size="71.51" stroke="#ffffff" stroke-width="1.00" stroke-linejoin="round">600</text>
<text id="xl650" transform="translate(982.11 1431.78) scale(1.0685 1)" font-size="71.51" stroke="#ffffff" stroke-width="1.00" stroke-linejoin="round">650</text>
<text id="xl700" transform="translate(1300.28 1425.98) scale(1.0807 1)" font-size="71.51" stroke="#ffffff" stroke-width="1.00" stroke-linejoin="round">700</text>
<text id="xl750" transform="translate(1611.99 1425.98) scale(1.0798 1)" font-size="71.51" stroke="#ffffff" stroke-width="1.00" stroke-linejoin="round">750</text>
<text id="xl800" transform="translate(1910.28 1423.47) scale(1.0662 1)" font-size="72.49" stroke="#ffffff" stroke-width="1.00" stroke-linejoin="round">800</text>
<text id="yl0" transform="translate(275.12 1222.28) scale(1.0670 1)" font-size="71.37" stroke="#ffffff" stroke-width="1.00" stroke-linejoin="round">0.0</text>
<text id="lg1" transform="translate(1570.02 114.20) scale(1.0433 1)" font-size="82.49" filter="url(#bt2)">1:</text>
<text id="lg2" transform="translate(1567.83 227.30) scale(1.0708 1)" font-size="82.92" filter="url(#bt2)">2:</text>
<text id="lg3" transform="translate(1569.24 337.13) scale(1.0711 1)" font-size="81.25" filter="url(#bt2)">3:</text>
<text id="lg4" transform="translate(1567.80 452.00) scale(1.0730 1)" font-size="82.77" filter="url(#bt2)">4:</text>
<text id="q00" transform="translate(1006.21 151.50) scale(0.9749 1)" font-size="72.00" fill="#15171f" filter="url(#bt)">Q(0,0)</text>
<text id="q01" transform="translate(1362.62 897.00) scale(0.9684 1)" font-size="72.00" fill="#15171f" filter="url(#bt)">Q(0,1)</text>
<text id="xt" transform="translate(872.00 1573.30) scale(0.9981 1)" font-size="85.00" stroke="#ffffff" stroke-width="1.20" stroke-linejoin="round">Wavelength (nm)</text>
<text id="yt" transform="translate(132.00 1023.21) rotate(-90) scale(0.9885 1)" font-size="85.00" stroke="#ffffff" stroke-width="1.20" stroke-linejoin="round">Arbitrary units</text>
<text id="yl4" stroke="#ffffff" stroke-width="1.00" stroke-linejoin="round"><tspan x="212.40" y="218.40" font-size="73.81" textLength="39.25" lengthAdjust="spacingAndGlyphs">4</tspan><tspan x="255.04" y="228.17" font-size="84.74" font-weight="normal" stroke-width="2" textLength="44.46" lengthAdjust="spacingAndGlyphs">×</tspan><tspan x="299.77" y="217.27" font-size="72.21" textLength="84.20" lengthAdjust="spacingAndGlyphs">10</tspan><tspan x="385.19" y="193.43" font-size="46.19" stroke-width="0.3" textLength="23.41" lengthAdjust="spacingAndGlyphs">5</tspan></text>
<text id="yl3" stroke="#ffffff" stroke-width="1.00" stroke-linejoin="round"><tspan x="208.29" y="480.18" font-size="71.37" textLength="39.48" lengthAdjust="spacingAndGlyphs">3</tspan><tspan x="248.86" y="491.07" font-size="84.74" font-weight="normal" stroke-width="2" textLength="45.24" lengthAdjust="spacingAndGlyphs">×</tspan><tspan x="294.20" y="480.18" font-size="71.37" textLength="83.65" lengthAdjust="spacingAndGlyphs">10</tspan><tspan x="379.61" y="456.34" font-size="45.22" stroke-width="0.3" textLength="22.87" lengthAdjust="spacingAndGlyphs">5</tspan></text>
<text id="yl2" stroke="#ffffff" stroke-width="1.00" stroke-linejoin="round"><tspan x="186.21" y="706.00" font-size="73.24" textLength="40.71" lengthAdjust="spacingAndGlyphs">2</tspan><tspan x="227.96" y="715.77" font-size="84.74" font-weight="normal" stroke-width="2" textLength="45.24" lengthAdjust="spacingAndGlyphs">×</tspan><tspan x="272.77" y="704.88" font-size="71.65" textLength="84.20" lengthAdjust="spacingAndGlyphs">10</tspan><tspan x="358.81" y="680.74" font-size="45.22" stroke-width="0.3" textLength="22.76" lengthAdjust="spacingAndGlyphs">5</tspan></text>
<text id="yl1" stroke="#ffffff" stroke-width="1.00" stroke-linejoin="round"><tspan x="186.45" y="960.30" font-size="73.24" textLength="40.46" lengthAdjust="spacingAndGlyphs">1</tspan><tspan x="227.96" y="970.07" font-size="84.74" font-weight="normal" stroke-width="2" textLength="45.24" lengthAdjust="spacingAndGlyphs">×</tspan><tspan x="272.77" y="959.18" font-size="71.65" textLength="84.20" lengthAdjust="spacingAndGlyphs">10</tspan><tspan x="358.81" y="935.04" font-size="45.63" stroke-width="0.3" textLength="22.76" lengthAdjust="spacingAndGlyphs">5</tspan></text>
</g>
</svg>
</body>
</html>
